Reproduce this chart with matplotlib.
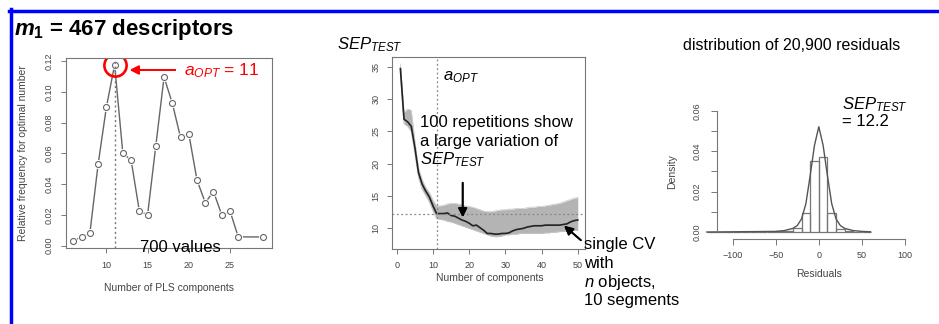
import matplotlib.pyplot as plt
import numpy as np
from matplotlib.lines import Line2D

plt.rcParams.update({
    "font.family": "Liberation Sans",
    "mathtext.fontset": "custom",
    "mathtext.rm": "Liberation Sans",
    "mathtext.it": "Liberation Sans:italic",
    "mathtext.bf": "Liberation Sans:bold:italic",
    "mathtext.sf": "Liberation Sans:bold",
    "axes.linewidth": 0.8,
})

# left panel: relative frequency of optimal number of PLS components
ncomp = [6, 7, 8, 9, 10, 11, 12, 13, 14, 15, 16, 17, 18, 19, 20, 21, 22, 23, 24, 25, 26, 29]
relfreq = [0.0033, 0.0057, 0.0083, 0.053, 0.090, 0.1176, 0.060, 0.0557, 0.0226, 0.020, 0.065,
           0.1096, 0.0926, 0.0704, 0.0728, 0.0426, 0.028, 0.0352, 0.020, 0.0226, 0.0057, 0.0057]
a_opt = 11

# middle panel: SEP_TEST vs number of components
comps = list(range(1, 51))
sep_cv = [34.8, 26.9, 26.5, 25.8, 22.5, 18.6, 16.8, 15.7, 14.8, 13.4,
          12.2, 12.2, 12.2, 12.3, 11.9, 11.8, 11.5, 11.2, 11.0, 10.7,
          10.3, 10.4, 10.0, 9.6, 9.1, 9.1, 9.0, 9.0, 9.1, 9.1,
          9.2, 9.5, 9.7, 9.8, 9.9, 10.1, 10.2, 10.3, 10.3, 10.3,
          10.4, 10.4, 10.4, 10.4, 10.4, 10.5, 10.6, 10.9, 11.1, 11.2]
rep_hi = [35.5, 28.0, 28.5, 28.3, 23.5, 19.3, 17.5, 16.3, 15.5, 14.3,
          13.4, 13.4, 13.5, 13.7, 13.8, 13.8, 13.7, 13.6, 13.4, 13.3,
          13.2, 13.0, 12.8, 12.6, 12.5, 12.5, 12.6, 12.7, 12.8, 12.8,
          12.9, 12.9, 13.0, 13.0, 13.0, 13.1, 13.2, 13.2, 13.3, 13.3,
          13.4, 13.5, 13.6, 13.7, 13.8, 14.0, 14.2, 14.4, 14.6, 14.7]
rep_lo = [34.0, 26.2, 25.8, 25.0, 21.5, 17.8, 16.0, 15.0, 14.0, 12.6,
          11.4, 11.3, 11.2, 11.0, 10.9, 10.7, 10.5, 10.3, 10.1, 9.9,
          9.7, 9.5, 9.3, 9.1, 8.9, 8.7, 8.6, 8.6, 8.7, 8.9,
          8.9, 9.0, 9.0, 9.1, 9.1, 9.1, 9.1, 9.1, 9.1, 9.1,
          9.2, 9.2, 9.3, 9.3, 9.4, 9.4, 9.5, 9.5, 9.6, 9.6]
sep_test = 12.2

# right panel: residual histogram + density
bin_edges = list(range(-130, 61, 10))
bin_dens = [0, 0, 0, 0, 0, 0.0001, 0.0001, 0.0002, 0.0003, 0.0007, 0.0018,
            0.0093, 0.0354, 0.0370, 0.0093, 0.0014, 0.0005, 0.0002, 0.0001]
kde_x = [-130, -100, -75, -50, -40, -30, -25, -20, -15, -10, -5, 0,
         5, 10, 15, 20, 25, 30, 40, 50, 60]
kde_y = [0, 0.0001, 0.0002, 0.0003, 0.0007, 0.0018, 0.0032, 0.0065, 0.014, 0.028, 0.043, 0.0522,
         0.043, 0.028, 0.014, 0.0065, 0.0032, 0.0018, 0.0007, 0.0003, 0.0001]

W, H = 939, 324
fig = plt.figure(figsize=(W / 100, H / 100), dpi=100)


def fx(x):
    return x / W


def fy(y):
    return 1 - y / H


def px_axes(x0, x1, y0, y1):
    return fig.add_axes([fx(x0), fy(y1), (x1 - x0) / W, (y1 - y0) / H])


def arrow(x0, y0, x1, y1, color):
    # arrow in pixel coordinates of the slide, tail -> head
    fig.add_artist(plt.annotate('', xy=(fx(x1), fy(y1)), xytext=(fx(x0), fy(y0)),
                                xycoords='figure fraction', textcoords='figure fraction',
                                arrowprops=dict(arrowstyle='-|>', color=color, lw=1.3,
                                                mutation_scale=13)))


BOX = '#777777'
TXT = '#444444'


def r_style(ax, xpad, ypad, length=3.5):
    for s in ax.spines.values():
        s.set_color(BOX)
    ax.tick_params(direction='out', length=length, width=0.7, color=BOX,
                   labelsize=6.5, labelcolor=TXT)
    ax.tick_params(axis='x', pad=xpad)
    ax.tick_params(axis='y', pad=ypad)
    for lab in ax.get_yticklabels():
        lab.set_rotation(90)
        lab.set_va('center')


# blue slide frame (top and left)
fig.add_artist(Line2D([fx(9), 1], [fy(11), fy(11)], color='#0000ff', lw=2.5))
fig.add_artist(Line2D([fx(11), fx(11)], [fy(9), 0], color='#0000ff', lw=2.5))

# ---------------- left panel
ax1 = px_axes(66, 272, 58, 248)
ax1.plot(ncomp, relfreq, color='#666666', lw=1.0)
ax1.plot(ncomp, relfreq, 'o', ms=6.5, mfc='white', mec='none')
ax1.plot(ncomp, relfreq, 'o', ms=4.3, mfc='white', mec='#666666', mew=0.8)
ax1.axvline(a_opt, color='#777777', lw=1.0, ls=(0, (1.5, 2)))
ax1.plot([a_opt], [relfreq[ncomp.index(a_opt)]], 'o', ms=16, mfc='none', mec='red', mew=1.9)
ax1.set_xlim(5.1, 30.1)
ax1.set_ylim(-0.0015, 0.122)
ax1.set_xticks([10, 15, 20, 25])
ax1.set_yticks([0, 0.02, 0.04, 0.06, 0.08, 0.10, 0.12])
ax1.set_yticklabels(['0.00', '0.02', '0.04', '0.06', '0.08', '0.10', '0.12'])
r_style(ax1, 5.5, 5.5)
fig.text(fx(23), fy(153), 'Relative frequency for optimal number', rotation=90,
         ha='center', va='center', fontsize=7.5, color=TXT)
fig.text(fx(169), fy(288), 'Number of PLS components', ha='center', va='center',
         fontsize=7.5, color=TXT)

fig.text(fx(14), fy(29), r'$\mathbf{m}_{\mathsf{1}}$ = 467 descriptors', fontsize=16,
         fontweight='bold', ha='left', va='center')
arrow(178, 70, 127, 70, 'red')
fig.text(fx(184), fy(71), r'$a_{OPT}$ = 11', color='red', fontsize=12.5, ha='left', va='center')
fig.text(fx(140), fy(248), '700 values', fontsize=12, ha='left', va='center')

# ---------------- middle panel
ax2 = px_axes(391.7, 585, 56.7, 249)
ax2.fill_between(comps, rep_lo, rep_hi, color='#b4b4b4', lw=0)
ax2.plot(comps, rep_hi, color='#cfcfcf', lw=0.6)
ax2.plot(comps, rep_lo, color='#c4c4c4', lw=0.6)
ax2.plot(comps, sep_cv, color='#222222', lw=1.2)
ax2.axvline(a_opt, color='#888888', lw=0.9, ls=(0, (1.5, 2)))
ax2.axhline(sep_test, color='#888888', lw=0.9, ls=(0, (1.5, 2)))
ax2.set_xlim(-1.4, 52)
ax2.set_ylim(6.68, 36.65)
ax2.set_xticks([0, 10, 20, 30, 40, 50])
ax2.set_yticks([10, 15, 20, 25, 30, 35])
r_style(ax2, 5, 4.5)
fig.text(fx(490), fy(278), 'Number of components', ha='center', va='center',
         fontsize=7.5, color=TXT)

fig.text(fx(337), fy(45), r'$SEP_{TEST}$', fontsize=12, ha='left', va='center')
fig.text(fx(443), fy(77), r'$a_{OPT}$', fontsize=12, ha='left', va='center')
fig.text(fx(420), fy(123), '100 repetitions show', fontsize=12, ha='left', va='center')
fig.text(fx(420), fy(141.5), 'a large variation of', fontsize=12, ha='left', va='center')
fig.text(fx(420), fy(160), r'$SEP_{TEST}$', fontsize=12, ha='left', va='center')
arrow(462.7, 180, 462.7, 220, 'black')
arrow(583, 242, 562, 224, 'black')
for i, line in enumerate(['single CV', 'with', r'$n$ objects,', '10 segments']):
    fig.text(fx(584), fy(245 + 18.5 * i), line, fontsize=12, ha='left', va='center')

# ---------------- right panel
ax3 = px_axes(700, 915, 100, 245)
ax3.bar(bin_edges[:-1], bin_dens, width=10, align='edge', fill=False,
        edgecolor='#777777', lw=0.9)
ax3.plot(kde_x, kde_y, color='#555555', lw=1.0)
ax3.set_xlim((700 - 818.8) / 0.8617, (915 - 818.8) / 0.8617)
ax3.set_ylim((232 - 245) / 2016.7, (232 - 100) / 2016.7)
ax3.spines['top'].set_visible(False)
ax3.spines['right'].set_visible(False)
ax3.spines['left'].set_position(('data', -117.8))
ax3.spines['left'].set_bounds(0, 0.06)
ax3.spines['bottom'].set_position(('data', -0.0036))
ax3.spines['bottom'].set_bounds(-100, 100)
ax3.set_xticks([-100, -50, 0, 50, 100])
ax3.set_xticklabels(['\u2212100', '\u221250', '0', '50', '100'])
ax3.set_yticks([0, 0.01, 0.02, 0.03, 0.04, 0.05, 0.06])
ax3.set_yticklabels(['0.00', '', '0.02', '', '0.04', '', '0.06'])
r_style(ax3, 4, 6.5, length=4.5)
fig.text(fx(672), fy(172), 'Density', rotation=90, ha='center', va='center',
         fontsize=7.5, color=TXT)
fig.text(fx(819), fy(274), 'Residuals', ha='center', va='center', fontsize=7.5, color=TXT)

fig.text(fx(792), fy(45), 'distribution of 20,900 residuals', fontsize=11.5,
         ha='center', va='center')
fig.text(fx(842), fy(105), r'$SEP_{TEST}$', fontsize=12, ha='left', va='center')
fig.text(fx(842), fy(122), '= 12.2', fontsize=12, ha='left', va='center')

plt.savefig('out.png', dpi=100)
